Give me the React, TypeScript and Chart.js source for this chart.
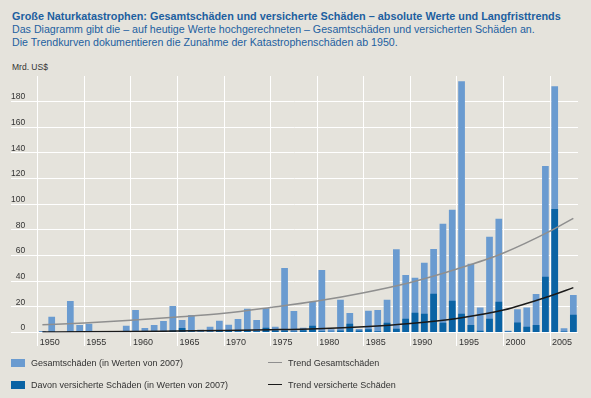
import React, { useEffect, useRef } from "react";
import { Chart, registerables } from "chart.js";

Chart.register(...registerables);

const years = [
  1950, 1951, 1952, 1953, 1954, 1955, 1956, 1957, 1958, 1959,
  1960, 1961, 1962, 1963, 1964, 1965, 1966, 1967, 1968, 1969,
  1970, 1971, 1972, 1973, 1974, 1975, 1976, 1977, 1978, 1979,
  1980, 1981, 1982, 1983, 1984, 1985, 1986, 1987, 1988, 1989,
  1990, 1991, 1992, 1993, 1994, 1995, 1996, 1997, 1998, 1999,
  2000, 2001, 2002, 2003, 2004, 2005, 2006, 2007,
];

const totalLosses = [
  1.2, 12.3, 0, 24.5, 5.8, 6.9, 0, 0, 0, 5.3,
  17.5, 3.5, 5.8, 9.0, 20.6, 9.7, 13.6, 2.1, 4.4, 9.1,
  6.0, 10.6, 18.5, 9.7, 19.0, 4.5, 50.3, 16.8, 3.7, 24.0,
  48.7, 2.6, 25.6, 15.2, 2.8, 16.9, 17.6, 25.5, 65.0, 44.8,
  42.7, 54.4, 65.1, 84.8, 95.7, 196, 53.6, 19.5, 74.7, 88.6,
  1.3, 18.1, 19.5, 30.0, 129.8, 192, 3.4, 29.2,
];

const insuredLosses = [
  0.3, 0.5, 0, 0.8, 1.0, 0.5, 0, 0, 0, 0.5,
  0.8, 0.3, 0.5, 0.8, 1.5, 3.6, 1.0, 0.5, 0.8, 1.2,
  1.8, 1.0, 1.8, 1.0, 3.7, 1.5, 1.5, 0.8, 1.8, 5.3,
  1.0, 0.5, 1.5, 6.9, 1.5, 2.6, 1.0, 7.6, 3.0, 10.8,
  15.4, 14.7, 30.2, 7.6, 24.8, 14.7, 5.8, 1.4, 10.8, 24.0,
  0.7, 7.7, 4.5, 5.8, 43.5, 96.3, 0.7, 13.9,
];

const trendYears = [1950.5, 1955, 1960, 1965, 1970, 1975, 1980, 1985, 1990, 1995, 2000, 2005, 2007.5];
const trendTotal = [6, 7.5, 9.5, 12, 15, 19.5, 24.5, 31, 39, 49.5, 62, 79, 89];
const trendInsured = [0.3, 0.5, 0.8, 1.2, 1.6, 2.2, 3, 4.5, 7, 11, 17.5, 28.5, 35];

const titleLine = "Große Naturkatastrophen: Gesamtschäden und versicherte Schäden – absolute Werte und Langfristtrends";
const subtitleLines = [
  "Das Diagramm gibt die – auf heutige Werte hochgerechneten – Gesamtschäden und versicherten Schäden an.",
  "Die Trendkurven dokumentieren die Zunahme der Katastrophenschäden ab 1950.",
];
const unitLabel = "Mrd. US$";
const legendTotal = "Gesamtschäden (in Werten von 2007)";
const legendInsured = "Davon versicherte Schäden (in Werten von 2007)";
const legendTrendTotal = "Trend Gesamtschäden";
const legendTrendInsured = "Trend versicherte Schäden";

const BG = "#e5e3dc";
const LIGHT = "#6a9bd0";
const DARK = "#0a63a4";
const GRAY_LINE = "#8f8f8f";
const BLACK_LINE = "#1a1a1a";
const BLUE_TEXT = "#1d5fa0";
const FONT = "'Liberation Sans', Arial, sans-serif";

export default function App() {
  const canvasRef = useRef<HTMLCanvasElement | null>(null);

  useEffect(() => {
    const canvas = canvasRef.current;
    if (!canvas) return;
    const chart = new Chart(canvas, {
      type: "bar",
      data: {
        datasets: [
          {
            type: "line",
            label: legendTrendTotal,
            data: trendYears.map((x, i) => ({ x, y: trendTotal[i] })),
            borderColor: GRAY_LINE,
            borderWidth: 1.5,
            pointRadius: 0,
            cubicInterpolationMode: "monotone",
            order: 0,
          } as any,
          {
            type: "line",
            label: legendTrendInsured,
            data: trendYears.map((x, i) => ({ x, y: trendInsured[i] })),
            borderColor: BLACK_LINE,
            borderWidth: 1.5,
            pointRadius: 0,
            cubicInterpolationMode: "monotone",
            order: 0,
          } as any,
          {
            type: "bar",
            label: legendInsured,
            data: years.map((yr, i) => ({ x: yr + 0.5, y: insuredLosses[i] })),
            backgroundColor: DARK,
            grouped: false,
            order: 1,
          } as any,
          {
            type: "bar",
            label: legendTotal,
            data: years.map((yr, i) => ({ x: yr + 0.5, y: totalLosses[i] })),
            backgroundColor: LIGHT,
            grouped: false,
            order: 2,
          } as any,
        ],
      },
      options: {
        animation: false,
        responsive: false,
        maintainAspectRatio: false,
        layout: { padding: { left: 11, right: 13, top: 76, bottom: 45.5 } },
        plugins: {
          legend: { display: false },
          tooltip: { enabled: false },
          title: { display: false },
        },
        scales: {
          x: {
            type: "linear",
            offset: false,
            min: 1947.13,
            max: 2008,
            border: { display: false },
            grid: { offset: false, color: "#ffffff", lineWidth: 1, drawTicks: true, tickLength: 13.5 },
            ticks: {
              stepSize: 5,
              includeBounds: false,
              align: "start",
              labelOffset: 2,
              padding: -8.7,
              maxRotation: 0,
              autoSkip: false,
              color: "#333333",
              font: { family: FONT, size: 9 },
              callback: (v: any) => String(Math.round(Number(v))),
            } as any,
            afterFit: (s: any) => {
              s.height = 20;
            },
          } as any,
          y: {
            type: "linear",
            min: 0,
            max: 200,
            border: { display: false },
            grid: { color: "#ffffff", lineWidth: 1, drawTicks: false },
            ticks: {
              stepSize: 20,
              mirror: true,
              crossAlign: "far",
              padding: 0,
              labelOffset: -4.5,
              color: "#333333",
              font: { family: FONT, size: 8.5 },
              callback: (v: any) => (Number(v) >= 200 ? null : String(v)),
            } as any,
            afterFit: (s: any) => {
              s.width = 0;
            },
          } as any,
        },
      },
    });
    return () => chart.destroy();
  }, []);

  const textBase: React.CSSProperties = {
    position: "absolute",
    left: 12,
    whiteSpace: "nowrap",
    fontFamily: FONT,
  };

  return (
    <div
      style={{
        position: "absolute",
        left: 0,
        top: 0,
        width: 591,
        height: 398,
        background: BG,
        overflow: "hidden",
      }}
    >
      <div style={{ ...textBase, top: 10.4, fontSize: 10.85, lineHeight: "13px", fontWeight: 700, color: BLUE_TEXT }}>
        {titleLine}
      </div>
      {subtitleLines.map((t, i) => (
        <div
          key={i}
          style={{ ...textBase, top: 23.3 + i * 12.8, fontSize: 10.65, lineHeight: "13px", color: BLUE_TEXT }}
        >
          {t}
        </div>
      ))}
      <div style={{ ...textBase, top: 61.5, fontSize: 8.5, lineHeight: "10px", color: "#333" }}>{unitLabel}</div>
      <canvas
        ref={canvasRef}
        width={591}
        height={398}
        style={{ position: "absolute", left: 0, top: 0, width: 591, height: 398 }}
      />
      {[
        { top: 362.5, kind: "box", color: LIGHT, text: legendTotal, x: 11 },
        { top: 384.5, kind: "box", color: DARK, text: legendInsured, x: 11 },
        { top: 362.5, kind: "line", color: GRAY_LINE, text: legendTrendTotal, x: 268 },
        { top: 384.5, kind: "line", color: BLACK_LINE, text: legendTrendInsured, x: 268 },
      ].map((item, i) => (
        <React.Fragment key={i}>
          {item.kind === "box" ? (
            <div
              style={{
                position: "absolute",
                left: item.x,
                top: item.top - 4,
                width: 14,
                height: 8,
                background: item.color,
              }}
            />
          ) : (
            <div
              style={{
                position: "absolute",
                left: item.x,
                top: item.top - 0.75,
                width: 14,
                height: 1.5,
                background: item.color,
              }}
            />
          )}
          <div
            style={{
              position: "absolute",
              left: item.x + 20,
              top: item.top - 6,
              fontFamily: FONT,
              fontSize: 9,
              lineHeight: "12px",
              color: "#333",
              whiteSpace: "nowrap",
            }}
          >
            {item.text}
          </div>
        </React.Fragment>
      ))}
    </div>
  );
}
